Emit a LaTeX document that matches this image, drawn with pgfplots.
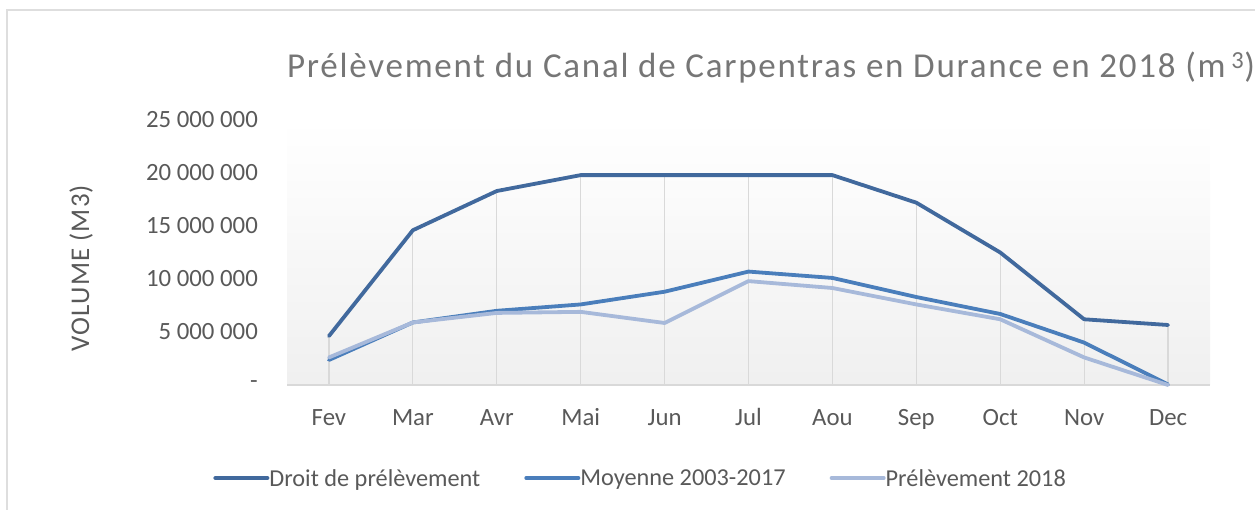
\documentclass[border=0pt]{standalone}
\usepackage{pgfplots}
\pgfplotsset{compat=1.18}
\usepackage{pgfplotstable}
\usepackage{fontspec}
\setmainfont{Carlito}
\newfontfamily\spacedfont[LetterSpace=4]{Carlito}
\newfontfamily\titlefont[LetterSpace=5]{Carlito}
\definecolor{cdroit}{RGB}{65,105,157}
\definecolor{cmoy}{RGB}{74,126,187}
\definecolor{cpre}{RGB}{167,185,218}
\definecolor{ctxt}{RGB}{89,89,89}
\definecolor{ctitle}{RGB}{118,118,118}

\pgfplotstableread{
x y
0 4620000
1 14600000
2 18300000
3 19800000
4 19800000
5 19800000
6 19800000
7 17200000
8 12500000
9 6200000
10 5660000
}\droit
\pgfplotstableread{
x y
0 2360000
1 5900000
2 7000000
3 7600000
4 8800000
5 10700000
6 10100000
7 8300000
8 6700000
9 4000000
10 50000
}\moy
\pgfplotstableread{
x y
0 2600000
1 5900000
2 6800000
3 6900000
4 5850000
5 9800000
6 9150000
7 7600000
8 6200000
9 2600000
10 0
}\pre

\begin{document}
\begin{tikzpicture}
\path[use as bounding box] (0,0) rectangle (1255bp,510bp);
\draw[black!13, line width=1.5bp] (7bp,0) -- (7bp,500bp) -- (1255bp,500bp);
\begin{axis}[
  at={(287bp,125bp)}, anchor=south west,
  scale only axis, width=923bp, height=265bp,
  xmin=-0.5, xmax=10.5, ymin=0, ymax=25000000,
  axis background/.style={top color=white, bottom color=black!6},
  axis x line=bottom, axis y line=left,
  x axis line style={-, draw=black!15, line width=1.2bp},
  y axis line style={draw=none},
  major tick length=0pt,
  xtick={0,...,10},
  xticklabels={Fev,Mar,Avr,Mai,Jun,Jul,Aou,Sep,Oct,Nov,Dec},
  ytick={0,5000000,10000000,15000000,20000000,25000000},
  yticklabels={-,5 000 000,10 000 000,15 000 000,20 000 000,25 000 000},
  scaled y ticks=false,
  ticklabel style={font=\fontsize{24.8bp}{28bp}\selectfont, text=ctxt},
  yticklabel style={anchor=east, inner sep=0pt, xshift=-29bp},
  xticklabel style={anchor=base, inner sep=0pt, yshift=-40bp},
  clip=false,
  legend columns=3,
  legend style={at={(-0.080,-0.351)}, anchor=west, draw=none, fill=none,
    font=\fontsize{24.3bp}{28bp}\selectfont, text=ctxt, inner sep=0pt,
    /tikz/every even column/.append style={column sep=44bp},
    nodes={inner sep=0pt, text depth=0pt, anchor=west, xshift=5bp}},
  legend image code/.code={\draw[#1, line width=4bp, line cap=round] (0bp,0bp) -- (52bp,0bp);},
  every axis plot/.append style={line join=round, line cap=round},
]
\addplot[ycomb, draw=black!15, line width=1.2bp, forget plot, mark=none] table {\droit};
\addplot[cdroit, line width=3.8bp] table {\droit};
\addlegendentry{Droit de prélèvement}
\addplot[cmoy, line width=3.8bp] table {\moy};
\addlegendentry{Moyenne 2003-2017}
\addplot[cpre, line width=3.8bp] table {\pre};
\addlegendentry{Prélèvement 2018}
\end{axis}
\node[anchor=base, text=ctitle, font=\titlefont\fontsize{35bp}{40bp}\selectfont] at (771bp,432bp) {Prélèvement du Canal de Carpentras en Durance en 2018 (m\,\textsuperscript{3})};
\node[rotate=90, text=ctxt, font=\spacedfont\fontsize{27bp}{32bp}\selectfont] at (81bp,242bp) {VOLUME (M3)};
\end{tikzpicture}
\end{document}
